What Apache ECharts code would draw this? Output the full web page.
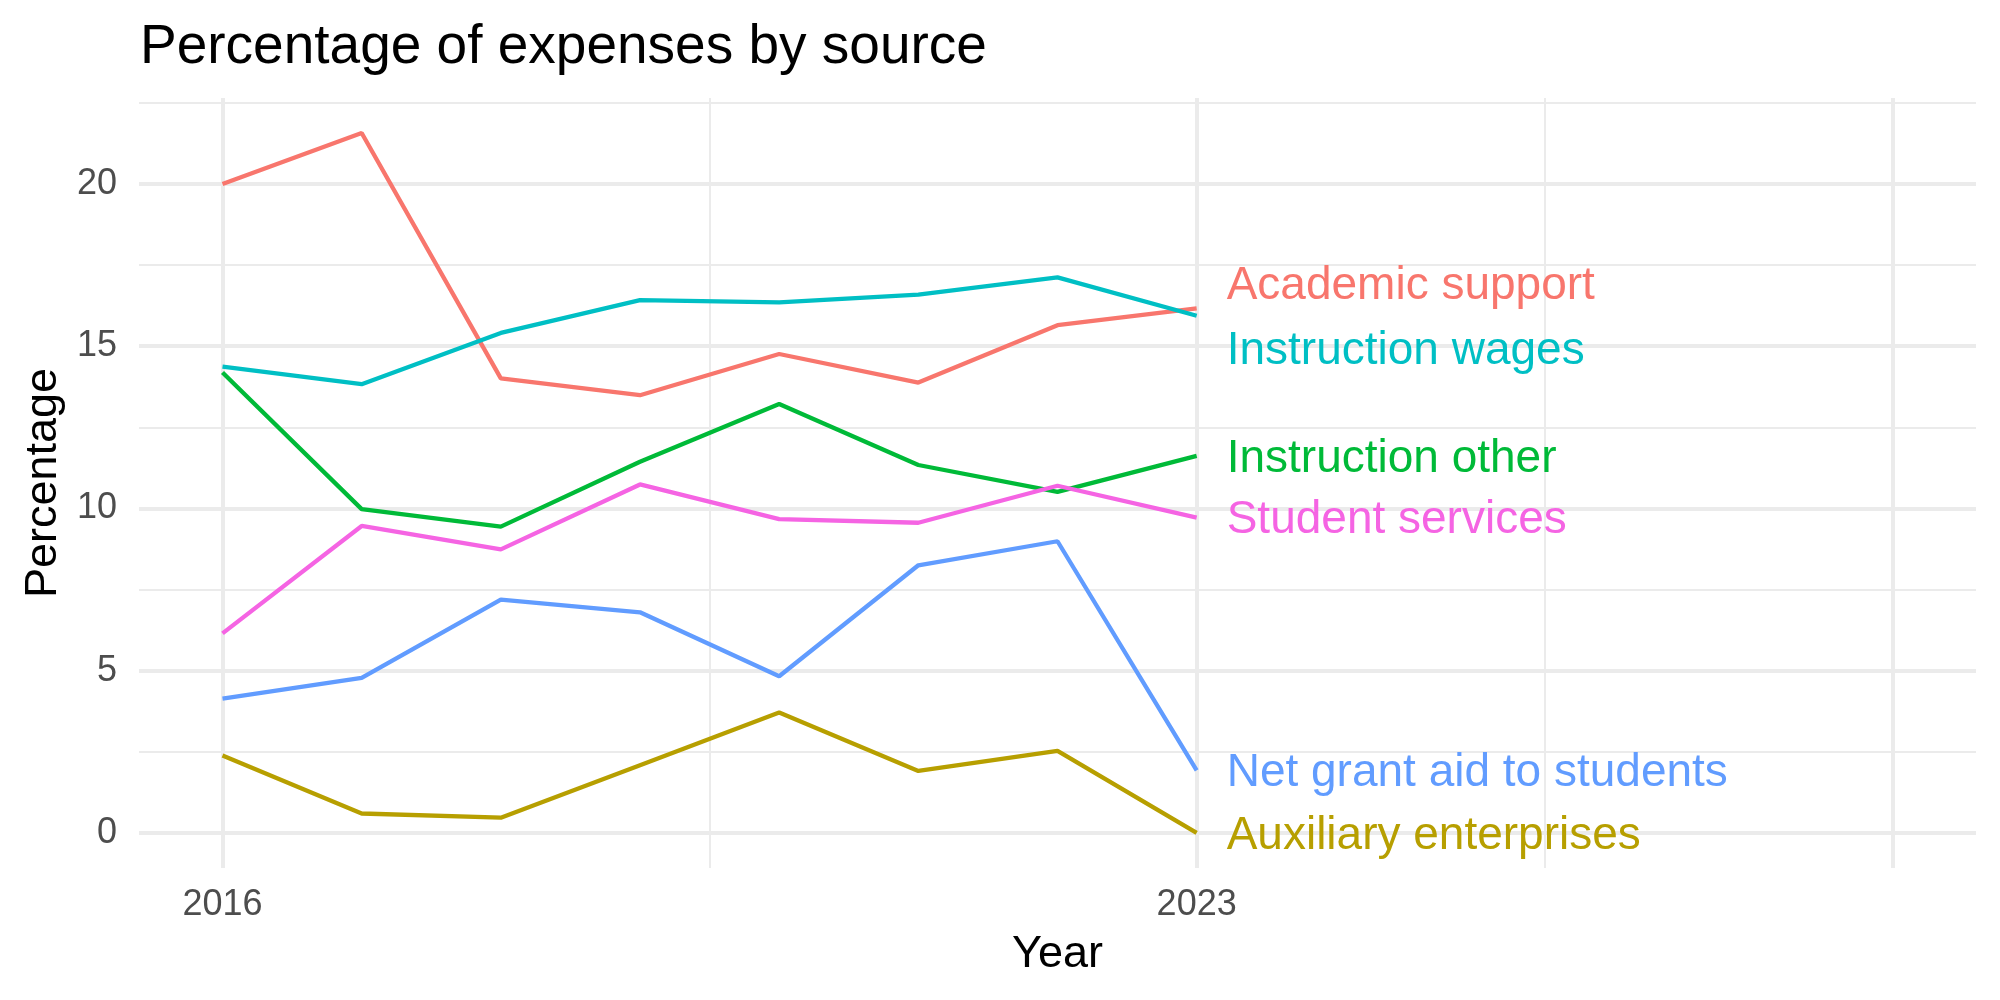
<!DOCTYPE html>
<html>
<head>
<meta charset="utf-8">
<title>Percentage of expenses by source</title>
<script src="https://cdn.jsdelivr.net/npm/echarts@6/dist/echarts.min.js"></script>
<style>
  html, body { margin: 0; padding: 0; background: #fff; }
  #chart { width: 2000px; height: 1000px; }
</style>
</head>
<body>
<div id="chart"></div>
<script>
// data
var years = [2016, 2017, 2018, 2019, 2020, 2021, 2022, 2023];
var academicSupport = [20.0, 21.57, 14.01, 13.49, 14.76, 13.88, 15.65, 16.17];
var auxiliaryEnterprises = [2.39, 0.60, 0.47, 2.09, 3.71, 1.91, 2.53, 0.0];
var instructionOther = [14.19, 9.98, 9.44, 11.44, 13.22, 11.34, 10.51, 11.62];
var instructionWages = [14.37, 13.83, 15.41, 16.42, 16.35, 16.59, 17.12, 15.94];
var netGrantAid = [4.14, 4.78, 7.19, 6.80, 4.83, 8.25, 8.99, 1.93];
var studentServices = [6.15, 9.46, 8.74, 10.74, 9.67, 9.56, 10.70, 9.72];

// axis ticks
var xLabels = [2016, 2023];
var xMajor = [2016, 2023, 2028];
var xMinor = [2019.5, 2025.5];
var yLabels = [0, 5, 10, 15, 20];
var yMinor = [2.5, 7.5, 12.5, 17.5, 22.5];

var font = 'Liberation Sans, Arial, Helvetica, sans-serif';

// name, values, colour, label nudge (px) - labels are repelled like ggrepel
var seriesDefs = [
  ['Academic support', academicSupport, '#F8766D', -22],
  ['Auxiliary enterprises', auxiliaryEnterprises, '#B79F00', 3],
  ['Instruction other', instructionOther, '#00BA38', 3],
  ['Instruction wages', instructionWages, '#00BFC4', 36],
  ['Net grant aid to students', netGrantAid, '#619CFF', 3],
  ['Student services', studentServices, '#F564E3', 3]
];

function gridLines(values, axis, width) {
  return values.map(function (v) {
    var d = {};
    d[axis] = v;
    d.lineStyle = { color: '#EBEBEB', width: width, type: 'solid' };
    return d;
  });
}

// background grid (minor + major) drawn under the lines
var series = [{
  name: 'grid',
  type: 'line',
  data: [],
  silent: true,
  z: 0,
  markLine: {
    silent: true,
    z: 0,
    symbol: 'none',
    label: { show: false },
    emphasis: { disabled: true },
    animation: false,
    data: [].concat(
      gridLines(yMinor, 'yAxis', 2),
      gridLines(xMinor, 'xAxis', 2),
      gridLines(yLabels, 'yAxis', 4),
      gridLines(xMajor, 'xAxis', 4)
    )
  }
}];

seriesDefs.forEach(function (s) {
  series.push({
    name: s[0],
    type: 'line',
    z: 10,
    data: years.map(function (y, i) { return [y, s[1][i]]; }),
    showSymbol: false,
    lineStyle: { color: s[2], width: 4.3 },
    itemStyle: { color: s[2] },
    endLabel: {
      show: true,
      formatter: '{a}',
      color: s[2],
      fontSize: 46,
      fontFamily: font,
      textBorderWidth: 0,
      textBorderColor: 'transparent',
      distance: 0,
      offset: [30, s[3]]
    }
  });
});

var chart = echarts.init(document.getElementById('chart'));
chart.setOption({
  animation: false,
  backgroundColor: '#ffffff',
  title: {
    text: 'Percentage of expenses by source',
    left: 140,
    top: 20,
    padding: 0,
    textStyle: { fontSize: 55, fontWeight: 'normal', color: '#000', fontFamily: font }
  },
  grid: { left: 139, right: 24, top: 98, bottom: 132 },
  xAxis: {
    type: 'value',
    min: 2015.4,
    max: 2028.6,
    name: 'Year',
    nameLocation: 'middle',
    nameGap: 64,
    nameTextStyle: { fontSize: 45, color: '#000', fontFamily: font },
    axisLine: { show: false },
    axisTick: { show: false },
    splitLine: { show: false },
    axisLabel: {
      customValues: xLabels,
      formatter: function (v) { return String(v); },
      fontSize: 36,
      color: '#4D4D4D',
      fontFamily: font,
      margin: 19
    }
  },
  yAxis: {
    type: 'value',
    min: -1.08,
    max: 22.65,
    name: 'Percentage',
    nameLocation: 'middle',
    nameRotate: 90,
    nameGap: 73,
    nameTextStyle: { fontSize: 45, color: '#000', fontFamily: font },
    axisLine: { show: false },
    axisTick: { show: false },
    splitLine: { show: false },
    axisLabel: {
      customValues: yLabels,
      fontSize: 36,
      color: '#4D4D4D',
      fontFamily: font,
      margin: 22
    }
  },
  series: series
});
</script>
</body>
</html>
